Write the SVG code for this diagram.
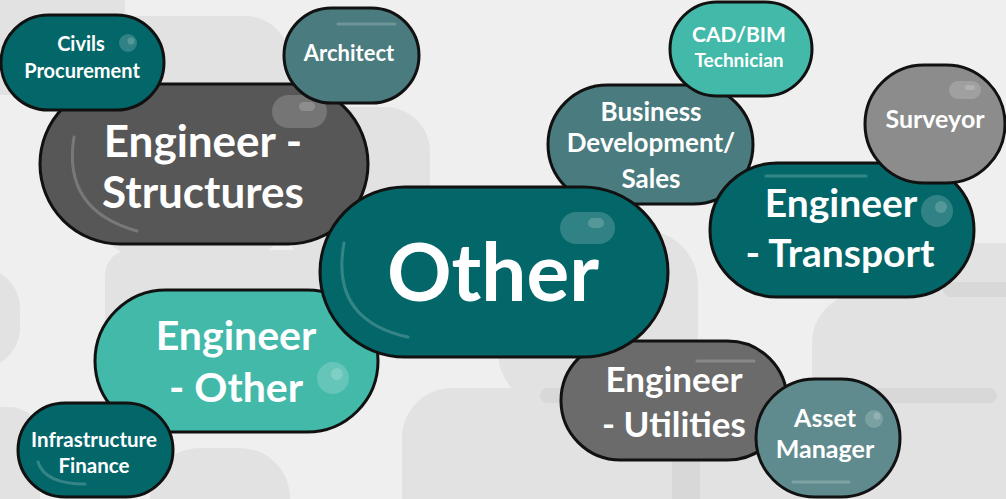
<svg xmlns="http://www.w3.org/2000/svg" width="1006" height="499" viewBox="0 0 1006 499">
<style>
.node{stroke:#111;stroke-width:3}
.dk{fill:#03676a}.tl{fill:#43b9a9}.sl{fill:#4a7b7e}.as{fill:#5f8b8e}.g1{fill:#575757}.g2{fill:#6b6b6b}.g3{fill:#8c8c8c}
.t{font-family:Lato,"Liberation Sans",sans-serif;font-weight:700;fill:#fff;text-anchor:middle}
.bg{fill:#e2e2e2}.bg2{fill:#d8d8d8}
.hl{fill:#fff;fill-opacity:0.18}
.ln{stroke:#fff;stroke-opacity:0.2;stroke-width:3;stroke-linecap:round;fill:none}
</style>
<rect width="1006" height="499" fill="#efefef"/>
<g id="background">
<rect class="bg" x="-50" y="-50" width="175" height="145" rx="45"/>
<rect class="bg" x="95" y="16" width="195" height="240" rx="45"/>
<rect class="bg" x="290" y="107" width="140" height="170" rx="45"/>
<rect class="bg" x="-60" y="268" width="80" height="100" rx="40"/>
<rect class="bg" x="105" y="250" width="250" height="120" rx="25"/>
<rect class="bg" x="-50" y="407" width="90" height="150" rx="30"/>
<rect class="bg" x="150" y="448" width="140" height="100" rx="50"/>
<rect class="bg" x="402" y="388" width="300" height="160" rx="50"/>
<rect class="bg" x="498" y="230" width="200" height="177" rx="55"/>
<rect class="bg" x="812" y="293" width="250" height="260" rx="50"/>
<rect class="bg" x="880" y="243" width="200" height="100" rx="40"/>
<rect class="bg" x="540" y="395" width="470" height="120"/>
<rect class="bg2" x="943" y="282" width="100" height="15" rx="7.5"/>
<rect class="bg2" x="540" y="388" width="457" height="15" rx="7.5"/>
<rect class="bg2" x="672" y="460" width="28" height="50"/>
</g>
<g id="connectors"></g>
<g id="n-structures">
<rect class="node g1" x="40" y="84" width="328" height="160" rx="80"/>
<rect class="hl" x="272" y="95" width="55" height="33" rx="16.5"/>
<rect class="hl" x="299" y="102" width="16" height="9" rx="4.5"/>
<path class="ln" d="M74,137 Q62,210 137,231"/>
<text class="t" x="203" y="157" font-size="44">Engineer -</text>
<text class="t" x="203" y="208" font-size="44">Structures</text>
</g>
<g id="n-engother">
<rect class="node tl" x="95" y="290" width="283" height="142" rx="71"/>
<circle class="hl" cx="333" cy="378" r="16"/>
<circle class="hl" cx="337" cy="374" r="6"/>
<text class="t" x="236" y="350" font-size="41">Engineer</text>
<text class="t" x="236" y="402" font-size="41">- Other</text>
</g>
<g id="n-business">
<rect class="node sl" x="548" y="85" width="205" height="119" rx="59.5"/>
<text class="t" x="651" y="121" font-size="26">Business</text>
<text class="t" x="651" y="152" font-size="26">Development/</text>
<text class="t" x="651" y="188" font-size="26">Sales</text>
</g>
<g id="n-utilities">
<rect class="node g2" x="561" y="341" width="226" height="119" rx="59.5"/>
<line class="ln" x1="697" y1="361" x2="754" y2="361"/>
<text class="t" x="674" y="392" font-size="35">Engineer</text>
<text class="t" x="674" y="437" font-size="35">- Utilities</text>
</g>
<g id="n-other">
<rect class="node dk" x="320" y="187" width="348" height="170" rx="85"/>
<rect class="hl" x="560" y="212" width="55" height="32" rx="16"/>
<rect class="hl" x="588" y="218" width="16" height="10" rx="5"/>
<path class="ln" d="M344,243 Q330,320 408,337"/>
<text class="t" x="493" y="301" font-size="80">Other</text>
</g>
<g id="n-transport">
<rect class="node dk" x="710" y="163" width="264" height="134" rx="67"/>
<line class="ln" x1="766" y1="176" x2="866" y2="176"/>
<circle class="hl" cx="937" cy="211" r="16"/>
<circle class="hl" cx="941" cy="207" r="6"/>
<text class="t" x="841" y="217" font-size="39">Engineer</text>
<text class="t" x="840" y="267" font-size="39">- Transport</text>
</g>
<g id="n-civils">
<rect class="node dk" x="1" y="15" width="163" height="95" rx="47.5"/>
<circle class="hl" cx="128" cy="43" r="9"/>
<circle class="hl" cx="131" cy="41" r="3.5"/>
<text class="t" x="81" y="51" font-size="20">Civils</text>
<text class="t" x="82" y="78" font-size="20">Procurement</text>
</g>
<g id="n-architect">
<rect class="node sl" x="284" y="8" width="135" height="95" rx="47.5"/>
<line class="ln" x1="338" y1="24" x2="395" y2="24"/>
<text class="t" x="349" y="61" font-size="22">Architect</text>
</g>
<g id="n-cad">
<rect class="node tl" x="670" y="2" width="142" height="94" rx="47"/>
<text class="t" x="739" y="42" font-size="21">CAD/BIM</text>
<text class="t" x="739" y="67" font-size="19">Technician</text>
</g>
<g id="n-surveyor">
<rect class="node g3" x="865" y="65" width="140" height="118" rx="59"/>
<rect class="hl" x="949" y="81" width="32" height="18" rx="9"/>
<rect class="hl" x="965" y="85" width="10" height="5" rx="2.5"/>
<text class="t" x="935" y="128" font-size="25">Surveyor</text>
</g>
<g id="n-infra">
<rect class="node dk" x="18" y="403" width="155" height="94" rx="47"/>
<path class="ln" d="M38,462 Q45,484 85,484"/>
<text class="t" x="94" y="447" font-size="20.5">Infrastructure</text>
<text class="t" x="94" y="473" font-size="20.5">Finance</text>
</g>
<g id="n-asset">
<rect class="node as" x="756" y="379" width="144" height="118" rx="59"/>
<circle class="hl" cx="874" cy="419" r="9"/>
<circle class="hl" cx="877" cy="416" r="3.5"/>
<line class="ln" x1="793" y1="482" x2="849" y2="482"/>
<text class="t" x="825" y="427" font-size="25">Asset</text>
<text class="t" x="825" y="458" font-size="25">Manager</text>
</g>
</svg>
